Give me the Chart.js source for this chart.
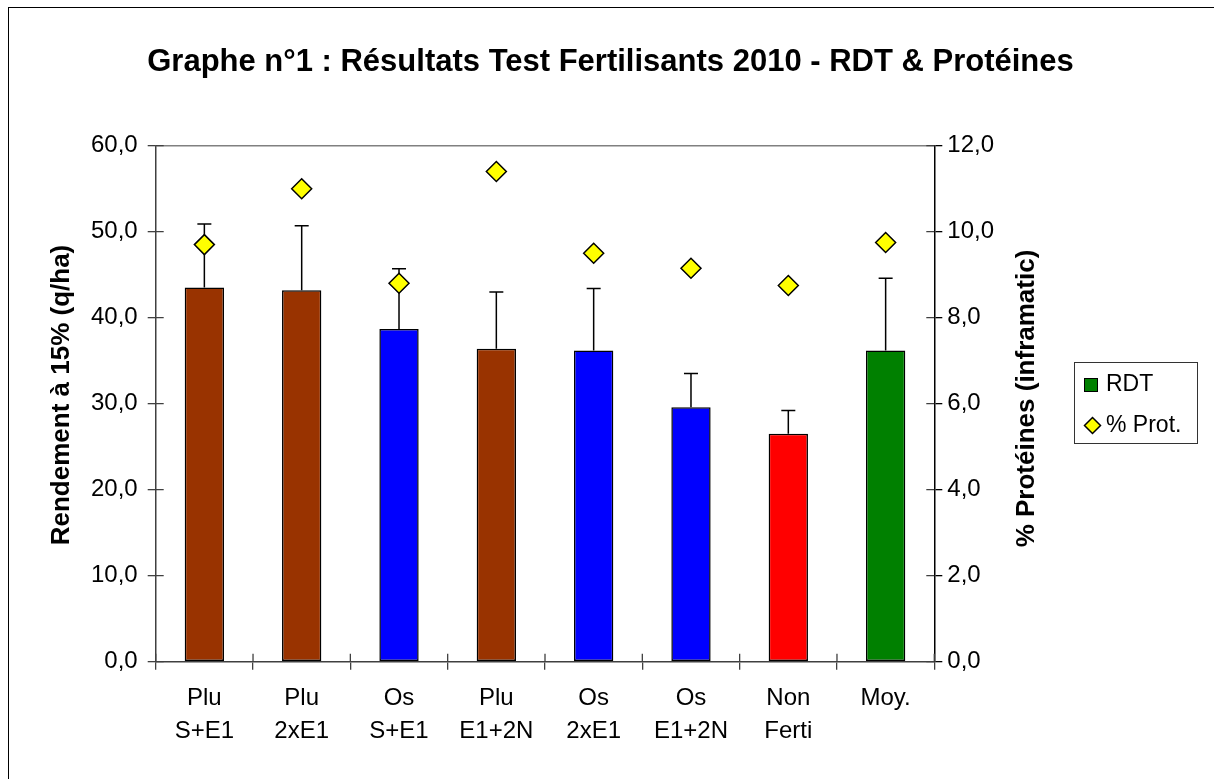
<!DOCTYPE html>
<html><head><meta charset="utf-8">
<script src="https://cdn.jsdelivr.net/npm/chart.js@4/dist/chart.umd.min.js"></script>
<style>html,body{margin:0;padding:0;background:#fff;overflow:hidden}</style>
</head><body>
<canvas id="c" width="1214" height="779" style="display:block;width:1214px;height:779px"></canvas>
<script>
// ---- data ----
const catLine1 = ['Plu','Plu','Os','Plu','Os','Os','Non','Moy.'];
const catLine2 = ['S+E1','2xE1','S+E1','E1+2N','2xE1','E1+2N','Ferti',''];
const rdt = [43.5, 43.2, 38.7, 36.4, 36.2, 29.6, 26.5, 36.2];
const rdtErrPlus = [7.4, 7.5, 7.0, 6.6, 7.2, 3.9, 2.7, 8.4];
const prot = [9.7, 11.0, 8.8, 11.4, 9.5, 9.15, 8.75, 9.75];
const leftTickLabels = ['0,0','10,0','20,0','30,0','40,0','50,0','60,0'];
const rightTickLabels = ['0,0','2,0','4,0','6,0','8,0','10,0','12,0'];
const seriesNames = ['RDT', '% Prot.'];
const titleText = 'Graphe n°1 : Résultats Test Fertilisants 2010 - RDT & Protéines';
const leftAxisTitle = 'Rendement à 15% (q/ha)';
const rightAxisTitle = '% Protéines (inframatic)';
const barColors = ['#993300','#993300','#0000FF','#993300','#0000FF','#0000FF','#FF0000','#008000'];

const labels = catLine1.map((t, i) => catLine2[i] ? [t, catLine2[i]] : t);
const FONT = "'Liberation Sans', Arial, sans-serif";
Chart.defaults.font.family = FONT;
Chart.defaults.color = '#000';

const decor = {
  id: 'decor',
  beforeDraw(chart) {
    const ctx = chart.ctx;
    ctx.save();
    ctx.fillStyle = '#fff';
    ctx.fillRect(0, 0, chart.width, chart.height);
    ctx.strokeStyle = '#000';
    ctx.lineWidth = 1;
    ctx.strokeRect(8.5, 7.5, 1400, 1000);
    ctx.restore();
  },
  afterDatasetDraw(chart, args) {
    if (args.index !== 0) return;
    const ctx = chart.ctx;
    const ys = chart.scales.y;
    const meta = chart.getDatasetMeta(0);
    ctx.save();
    ctx.strokeStyle = '#000';
    ctx.lineWidth = 1.5;
    meta.data.forEach((bar, i) => {
      const yTop = ys.getPixelForValue(rdt[i] + rdtErrPlus[i]);
      ctx.beginPath();
      ctx.moveTo(bar.x, bar.y);
      ctx.lineTo(bar.x, yTop);
      ctx.moveTo(bar.x - 7, yTop);
      ctx.lineTo(bar.x + 7, yTop);
      ctx.stroke();
    });
    ctx.restore();
  },
  afterDraw(chart) {
    const ctx = chart.ctx;
    const a = chart.chartArea;
    const ys = chart.scales.y, ys1 = chart.scales.y1, xs = chart.scales.x;
    ctx.save();
    // top border of plot area
    ctx.strokeStyle = '#808080';
    ctx.lineWidth = 1.5;
    ctx.beginPath();
    ctx.moveTo(a.left, a.top); ctx.lineTo(a.right, a.top);
    ctx.stroke();
    // inner halves of tick marks
    ctx.strokeStyle = '#404040';
    ctx.lineWidth = 1.3;
    ctx.beginPath();
    ys.ticks.forEach(t => { const y = ys.getPixelForValue(t.value); ctx.moveTo(a.left, y); ctx.lineTo(a.left + 8, y); });
    ys1.ticks.forEach(t => { const y = ys1.getPixelForValue(t.value); ctx.moveTo(a.right - 8, y); ctx.lineTo(a.right, y); });
    const n = labels.length;
    const step = xs.getPixelForValue(1) - xs.getPixelForValue(0);
    for (let i = 0; i <= n; i++) {
      const x = i < n ? xs.getPixelForValue(i) - step / 2 : a.right;
      ctx.moveTo(x, a.bottom); ctx.lineTo(x, a.bottom - 8);
    }
    ctx.stroke();
    // axis titles (both read bottom-to-top)
    ctx.fillStyle = '#000';
    ctx.textAlign = 'center';
    ctx.textBaseline = 'middle';
    ctx.save();
    ctx.translate(62, 395);
    ctx.rotate(-Math.PI / 2);
    ctx.font = 'bold 26px ' + FONT;
    ctx.fillText(leftAxisTitle, 0, 0);
    ctx.restore();
    ctx.save();
    ctx.translate(1027, 398.5);
    ctx.rotate(-Math.PI / 2);
    ctx.font = 'bold 26px ' + FONT;
    ctx.fillText(rightAxisTitle, 0, 0);
    ctx.restore();
    // legend
    ctx.strokeStyle = '#333';
    ctx.lineWidth = 1;
    ctx.strokeRect(1074.5, 362.5, 123, 81);
    ctx.fillStyle = '#008000';
    ctx.fillRect(1084, 378, 14, 14);
    ctx.strokeStyle = '#000';
    ctx.strokeRect(1084.5, 378.5, 13, 13);
    ctx.beginPath();
    ctx.moveTo(1092.5, 417.5); ctx.lineTo(1100.5, 425.5); ctx.lineTo(1092.5, 433.5); ctx.lineTo(1084.5, 425.5); ctx.closePath();
    ctx.fillStyle = '#FFFF00'; ctx.fill();
    ctx.lineWidth = 1.5; ctx.stroke();
    ctx.fillStyle = '#000';
    ctx.font = '23px ' + FONT;
    ctx.textBaseline = 'middle';
    ctx.textAlign = 'left';
    ctx.fillText(seriesNames[0], 1106, 385);
    ctx.fillText(seriesNames[1], 1106, 426);
    ctx.restore();
  }
};

new Chart(document.getElementById('c'), {
  type: 'bar',
  data: {
    labels: labels,
    datasets: [
      {
        label: seriesNames[0],
        data: rdt,
        backgroundColor: barColors,
        borderColor: '#000',
        borderWidth: 1.5,
        borderSkipped: false,
        categoryPercentage: 1,
        barPercentage: 0.404,
        yAxisID: 'y',
        order: 1
      },
      {
        type: 'line',
        label: seriesNames[1],
        data: prot,
        showLine: false,
        pointStyle: 'rectRot',
        pointRadius: 10,
        pointHoverRadius: 10,
        pointBackgroundColor: '#FFFF00',
        pointBorderColor: '#000',
        pointBorderWidth: 1.5,
        yAxisID: 'y1',
        order: 0
      }
    ]
  },
  options: {
    responsive: false,
    animation: false,
    events: [],
    layout: { padding: { left: 7, top: 0, right: 0, bottom: 0 } },
    plugins: {
      legend: { display: false },
      tooltip: { enabled: false },
      title: {
        display: true,
        text: titleText,
        color: '#000',
        font: { family: FONT, size: 31, weight: 'bold', lineHeight: 1.2 },
        padding: { top: 43.5, bottom: 65 }
      }
    },
    scales: {
      x: {
        grid: { drawOnChartArea: false, offset: true, tickLength: 8, color: '#404040', lineWidth: 1.3 },
        border: { display: true, color: '#404040', width: 1.5 },
        ticks: { color: '#000', font: { size: 24, lineHeight: 1.38 }, padding: 12, maxRotation: 0, autoSkip: false },
        afterFit(s) { s.height = 117.3; }
      },
      y: {
        position: 'left',
        min: 0, max: 60,
        ticks: { stepSize: 10, color: '#000', font: { size: 24 }, padding: 10, callback: (v, i) => leftTickLabels[i] },
        grid: { drawOnChartArea: false, tickLength: 8, color: '#404040', lineWidth: 1.3 },
        border: { display: true, color: '#404040', width: 1.5 },
        afterFit(s) { s.width = 148.7; }
      },
      y1: {
        position: 'right',
        min: 0, max: 12,
        ticks: { stepSize: 2, color: '#000', font: { size: 24 }, padding: 5, callback: (v, i) => rightTickLabels[i] },
        grid: { drawOnChartArea: false, tickLength: 8, color: '#000', lineWidth: 1.3 },
        border: { display: true, color: '#000', width: 1.5 },
        afterFit(s) { s.width = 279.7; }
      }
    }
  },
  plugins: [decor]
});
</script>
</body></html>
